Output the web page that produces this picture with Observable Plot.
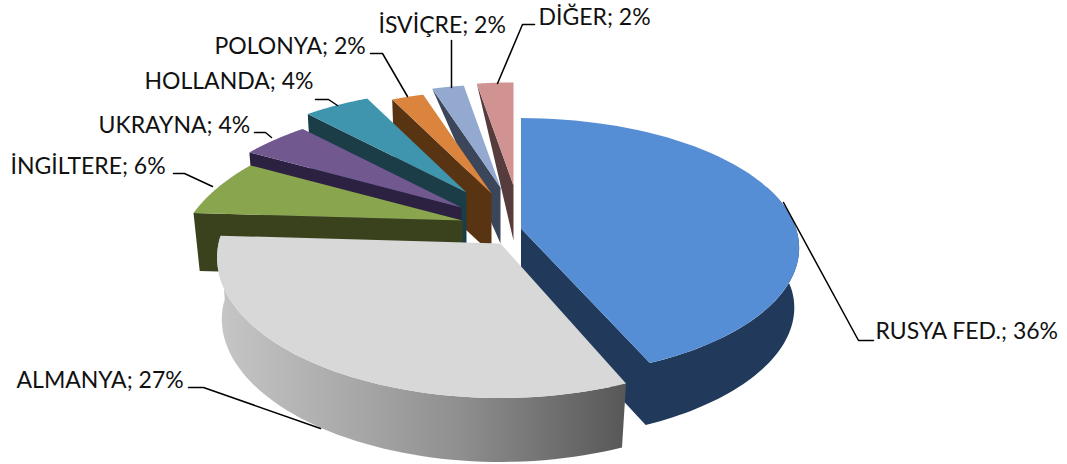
<!DOCTYPE html>
<html lang="tr"><head><meta charset="utf-8">
<script src="https://cdn.jsdelivr.net/npm/d3@7"></script>
<script src="https://cdn.jsdelivr.net/npm/@observablehq/plot@0.6"></script>
<style>html,body{margin:0;padding:0;background:#fff}svg{display:block}</style>
</head><body><div id="chart"></div>
<script>
// data
const categories = ["RUSYA FED.","ALMANYA","İNGİLTERE","UKRAYNA","HOLLANDA","POLONYA","İSVİÇRE","DİĞER"];
const shares = [36,27,5.7,4,4,2,2,2.3];
// styles
const faceColors = ["#558ed5","#d8d8d8","#89a54e","#71588f","#4095ae","#db843d","#93a9cf","#d19392"];
const wallColors = ["#213a5c","url(#greyWall)","#39421c","#2c2140","#1b3d48","#593413","#3c465a","#563c3c"];
// 3D projection of each exploded slice
const apexX = [520.5,500,462,461,466,491,500,513];
const apexY = [228,243,220,207,192,193,187,185];
const radiusX = [275,282,274,274,274,274,274,274];
const radiusY = [127,139,134,134,134,134,134,134];
const perspective = [.15,.1,.3,.3,.3,.3,.3,.3];
const depth = [62,64,58,60,60,60,56,55];
const farDepth = [62,64,58,60,60,64,0,0];
const baseShrink = .977;
// label layout
const labelX = [875,16,10,98,144,214,378,538];
const labelY = [331,380,166,125,81,46,25,17];
const leaderX = [[783,858,873],[188,203,320],[173,184,212],[254,265,271],[315,328,337],[370,382,407],[451,451],[534,522,497]];
const leaderY = [[202,340,340],[387,387,428],[173,173,186],[132,132,137],[99,99,105],[53,53,96],[40,87],[24,24,83]];

const W = 1067, H = 464;
const arcs = d3.pie().sort(null)(shares);
const top_ = (i, a) => {
  const u = Math.sin(a), v = -Math.cos(a), s = 1 / (1 - perspective[i] * v);
  return {x: apexX[i] + radiusX[i] * u * s, y: apexY[i] + radiusY[i] * v * s};
};
const drop = (i, p, d) => {
  const near = i < 2 ? .985 - .017 * Math.max(0, (p.y - apexY[i]) / radiusY[i]) : baseShrink;
  return {x: apexX[i] + (p.x - apexX[i]) * (d ? near : 1), y: p.y + d};
};
const rim = (i, a0, a1) => d3.range(0, 61).map(t => top_(i, a0 + (a1 - a0) * t / 60));
const apex = i => ({x: apexX[i], y: apexY[i]});

function face(i) {
  return [apex(i), ...rim(i, arcs[i].startAngle, arcs[i].endAngle)];
}
function wall(i) {
  const {startAngle: a, endAngle: b} = arcs[i];
  if (i === 0) { // outer rim plus the cut edge that faces the viewer
    const r = rim(i, 70 * Math.PI / 180, b);
    return [...r, apex(i), drop(i, apex(i), depth[i]), ...r.slice().reverse().map(p => drop(i, p, depth[i]))];
  }
  if (i === 1) { // outer rim only
    const r = rim(i, a, b);
    return [...r, ...r.slice().reverse().map(p => drop(i, p, depth[i]))];
  }
  const c = top_(i, a);
  return [c, apex(i), drop(i, apex(i), depth[i]), drop(i, c, farDepth[i])];
}
const poly = (pts, fill) => Plot.line(pts, {x: "x", y: "y", fill, stroke: "none"});

const gradient = () => {
  const svg = d3.create("svg:defs");
  const g = svg.append("linearGradient").attr("id", "greyWall").attr("gradientUnits", "userSpaceOnUse")
    .attr("x1", 218).attr("x2", 626).attr("y1", 0).attr("y2", 0);
  [[0, "#c6c6c6"], [.3, "#ababab"], [.6, "#8e8e8e"], [1, "#575757"]].forEach(([o, c]) =>
    g.append("stop").attr("offset", o).attr("stop-color", c));
  return svg.node();
};

const marks = [gradient];
for (const i of [7, 6, 5, 4, 3, 2, 0, 1]) {
  marks.push(poly(wall(i), wallColors[i]), poly(face(i), faceColors[i]));
}
categories.forEach((c, i) => {
  const pts = leaderX[i].map((x, j) => ({x, y: leaderY[i][j]}));
  marks.push(Plot.line(pts, {x: "x", y: "y", stroke: "#000", strokeWidth: 1.5, strokeLinejoin: "round"}));
});
const labels = categories.map((c, i) => ({text: `${c}; ${Math.round(shares[i])}%`, x: labelX[i], y: labelY[i]}));
marks.push(Plot.text(labels, {x: "x", y: "y", text: "text", textAnchor: "start", lineAnchor: "middle",
  fontSize: 23, fontFamily: "Lato", fill: "#111"}));

document.getElementById("chart").append(Plot.plot({
  width: W, height: H, margin: 0,
  x: {domain: [0, W], range: [0, W], axis: null},
  y: {domain: [0, H], range: [0, H], axis: null},
  style: {background: "#fff"},
  marks
}));
</script></body></html>
